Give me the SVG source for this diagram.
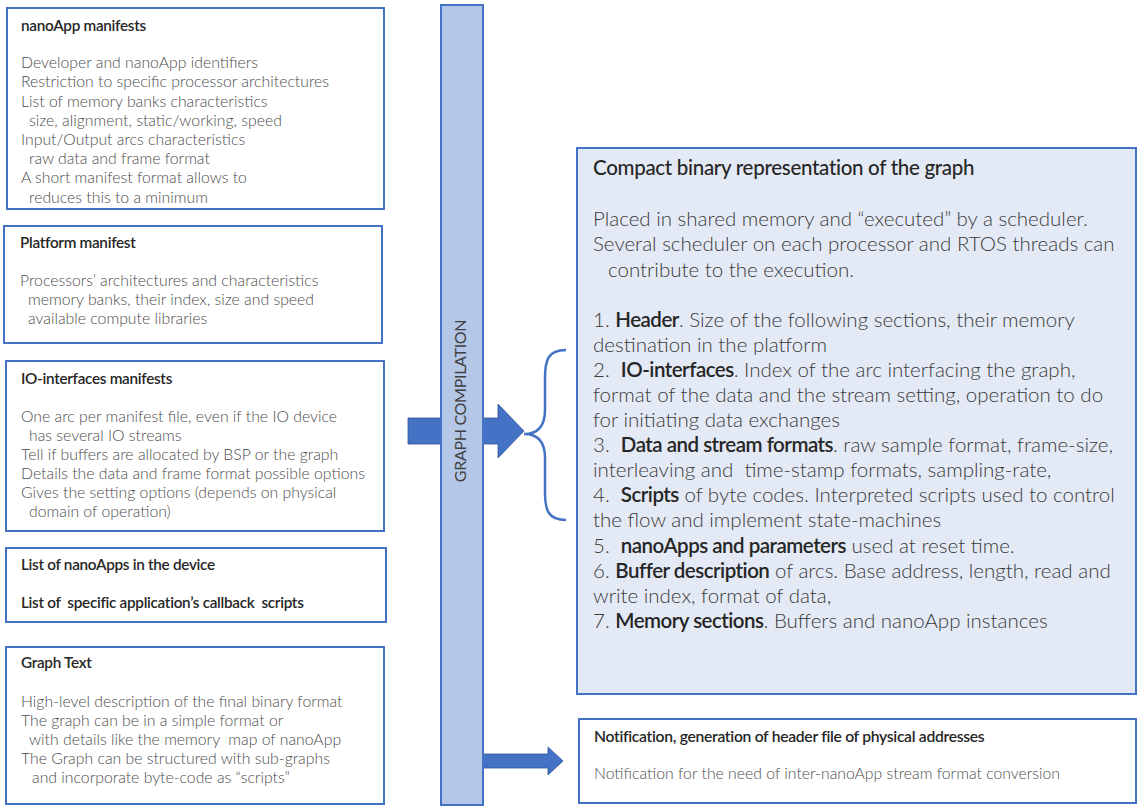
<svg xmlns="http://www.w3.org/2000/svg" width="1142" height="811" viewBox="0 0 1142 811">
<defs>
<style>
.box{fill:#ffffff;stroke:#4472c4;stroke-width:2}
.big{fill:#e4eaf5;stroke:#4472c4;stroke-width:2}
.t{font-family:Lato,"Liberation Sans",sans-serif;font-size:15.3px;font-weight:600;fill:#262626;white-space:pre;letter-spacing:-0.3px}
.n{font-size:15.7px}
.b{font-family:Lato,"Liberation Sans",sans-serif;font-size:15.8px;font-weight:300;fill:#4d4d4d;white-space:pre}
.bt{font-family:Lato,"Liberation Sans",sans-serif;font-size:20.5px;font-weight:500;fill:#262626;white-space:pre;letter-spacing:-0.3px}
.bb{font-family:Lato,"Liberation Sans",sans-serif;font-size:20.5px;font-weight:300;fill:#3a3a3a;white-space:pre}
.bb tspan.s{font-weight:600;fill:#262626;letter-spacing:-0.5px}
.arrow{fill:#4472c4;stroke:#2f5597;stroke-width:0.8}
</style>
</defs>
<rect width="1142" height="811" fill="#ffffff"/>

<g id="connectors">
<path class="arrow" d="M408,418 H498 V404 L524,431 L498,458 V444 H408 Z"/>
<path class="arrow" d="M483,754 H548 V747 L563,761 L548,775 V768 H483 Z"/>
<path d="M566,350 C548,350 545,360 545,378 L545,410 C545,426 538,434 524,434 C538,434 545,442 545,458 L545,492 C545,510 548,520 566,520" fill="none" stroke="#4472c4" stroke-width="2.5"/>
</g>

<g id="graph-compilation">
<rect x="441" y="5" width="42" height="800" fill="#b4c7e7" stroke="#4472c4" stroke-width="2"/>
<text transform="translate(466,401) rotate(-90)" text-anchor="middle" font-family="Lato,'Liberation Sans',sans-serif" font-size="16" fill="#404040" letter-spacing="-0.3">GRAPH COMPILATION</text>
</g>

<g id="nanoapp-manifests">
<rect class="box" x="7" y="8" width="377" height="201"/>
<text class="t" x="21" y="31">nanoApp manifests</text>
<text class="b" x="21" y="68">Developer and nanoApp identifiers</text>
<text class="b" x="21" y="87">Restriction to specific processor architectures</text>
<text class="b" x="21" y="107">List of memory banks characteristics</text>
<text class="b" x="29" y="126">size, alignment, static/working, speed</text>
<text class="b" x="21" y="145">Input/Output arcs characteristics</text>
<text class="b" x="29" y="164">raw data and frame format</text>
<text class="b" x="21" y="183">A short manifest format allows to</text>
<text class="b" x="29" y="203">reduces this to a minimum</text>
</g>

<g id="platform-manifest">
<rect class="box" x="4" y="226" width="378" height="117"/>
<text class="t" x="20" y="248">Platform manifest</text>
<text class="b" x="20" y="286">Processors’ architectures and characteristics</text>
<text class="b" x="28" y="305">memory banks, their index, size and speed</text>
<text class="b" x="28" y="324">available compute libraries</text>
</g>

<g id="io-interfaces-manifests">
<rect class="box" x="6" y="361" width="378" height="170"/>
<text class="t" x="21" y="384">IO-interfaces manifests</text>
<text class="b" x="21" y="422">One arc per manifest file, even if the IO device</text>
<text class="b" x="29" y="441">has several IO streams</text>
<text class="b" x="21" y="460">Tell if buffers are allocated by BSP or the graph</text>
<text class="b" x="21" y="479">Details the data and frame format possible options</text>
<text class="b" x="21" y="498">Gives the setting options (depends on physical</text>
<text class="b" x="29" y="517">domain of operation)</text>
</g>

<g id="nanoapps-list">
<rect class="box" x="6" y="548" width="380" height="74"/>
<text class="t" x="21" y="570">List of nanoApps in the device</text>
<text class="t" x="21" y="608">List of  specific application’s callback  scripts</text>
</g>

<g id="graph-text">
<rect class="box" x="6" y="647" width="378" height="157"/>
<text class="t" x="21" y="668">Graph Text</text>
<text class="b" x="21" y="707">High-level description of the final binary format</text>
<text class="b" x="21" y="726">The graph can be in a simple format or</text>
<text class="b" x="29" y="745">with details like the memory  map of nanoApp</text>
<text class="b" x="21" y="764">The Graph can be structured with sub-graphs</text>
<text class="b" x="32" y="783">and incorporate byte-code as “scripts”</text>
</g>

<g id="binary-representation">
<rect class="big" x="577" y="148" width="559" height="546"/>
<text class="bt" x="593" y="175">Compact binary representation of the graph</text>
<text class="bb" x="593" y="226">Placed in shared memory and “executed” by a scheduler.</text>
<text class="bb" x="593" y="251">Several scheduler on each processor and RTOS threads can</text>
<text class="bb" x="608" y="277">contribute to the execution.</text>
<text class="bb" x="593" y="327">1. <tspan class="s">Header</tspan>. Size of the following sections, their memory</text>
<text class="bb" x="593" y="352">destination in the platform</text>
<text class="bb" x="593" y="377">2.  <tspan class="s">IO-interfaces</tspan>. Index of the arc interfacing the graph,</text>
<text class="bb" x="593" y="402">format of the data and the stream setting, operation to do</text>
<text class="bb" x="593" y="427">for initiating data exchanges</text>
<text class="bb" x="593" y="452">3.  <tspan class="s">Data and stream formats</tspan>. raw sample format, frame-size,</text>
<text class="bb" x="593" y="477">interleaving and  time-stamp formats, sampling-rate,</text>
<text class="bb" x="593" y="502">4.  <tspan class="s">Scripts</tspan> of byte codes. Interpreted scripts used to control</text>
<text class="bb" x="593" y="527">the flow and implement state-machines</text>
<text class="bb" x="593" y="553">5.  <tspan class="s">nanoApps and parameters</tspan> used at reset time.</text>
<text class="bb" x="593" y="578">6. <tspan class="s">Buffer description</tspan> of arcs. Base address, length, read and</text>
<text class="bb" x="593" y="603">write index, format of data,</text>
<text class="bb" x="593" y="628">7. <tspan class="s">Memory sections</tspan>. Buffers and nanoApp instances</text>
</g>

<g id="notification">
<rect class="box" x="579" y="719" width="557" height="84"/>
<text class="t n" x="594" y="742">Notification, generation of header file of physical addresses</text>
<text class="b" x="594" y="779">Notification for the need of inter-nanoApp stream format conversion</text>
</g>
</svg>
